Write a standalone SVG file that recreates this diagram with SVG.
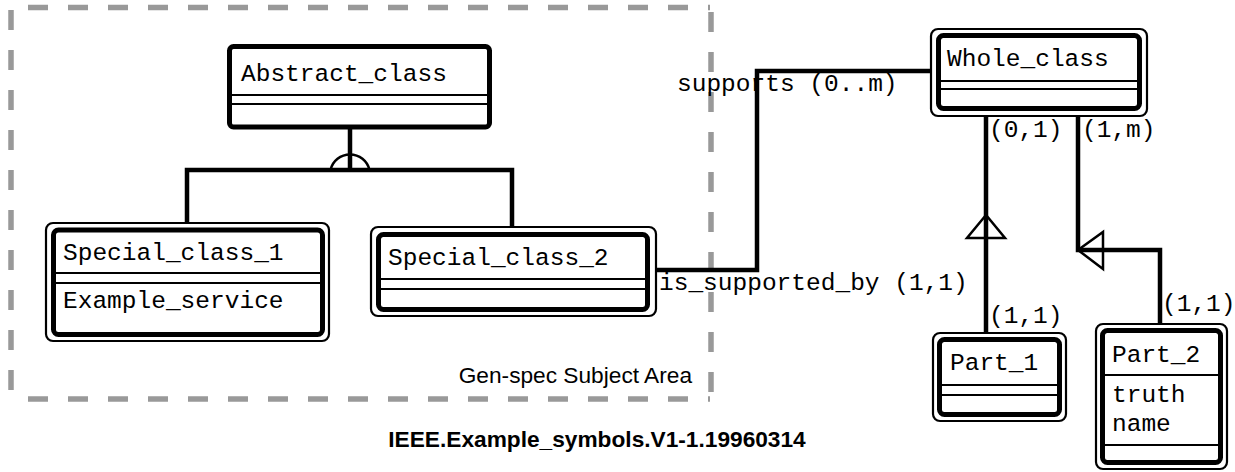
<svg xmlns="http://www.w3.org/2000/svg" width="1235" height="472" viewBox="0 0 1235 472">
  <style>
    .mono { font-family: "Liberation Mono", "Courier New", monospace; font-size: 24.5px; fill: #000; }
    .sans { font-family: "Liberation Sans", Arial, sans-serif; fill: #000; }
    .area { stroke: #999; stroke-width: 5.5; stroke-dasharray: 20 20; fill: none; }
    .thick { fill: #fff; stroke: #000; stroke-width: 5; }
    .thin { fill: #fff; stroke: #000; stroke-width: 2.2; }
    .sep { stroke: #000; stroke-width: 2.2; }
    .conn { fill: none; stroke: #000; stroke-width: 4.5; stroke-linejoin: miter; }
    .sym { fill: none; stroke: #000; stroke-width: 2.5; }
  </style>
  <rect width="1235" height="472" fill="#fff"/>

  <!-- subject area border -->
  <g id="subject-area">
    <line class="area" x1="28" y1="7.5" x2="710" y2="7.5"/>
    <line class="area" x1="28" y1="399" x2="710" y2="399"/>
    <line class="area" x1="11" y1="10" x2="11" y2="392"/>
    <line class="area" x1="711" y1="12" x2="711" y2="394"/>
    <text class="sans" x="692" y="383" font-size="22.7" text-anchor="end">Gen-spec Subject Area</text>
  </g>

  <!-- connectors -->
  <g id="connectors">
    <path class="conn" d="M350 129 V170"/>
    <path class="conn" d="M187 222 V170 H512 V227"/>
    <path class="sym" d="M330.5 170 A20 20 0 0 1 369.5 170"/>
    <path class="conn" d="M657 270 H757 V71 H930"/>
    <path class="conn" d="M986 117 V333"/>
    <path class="conn" d="M1078 117 V250 H1160 V324"/>
    <polygon class="sym" points="986,215 967,238 1005,238"/>
    <polygon class="sym" points="1078,250 1103,232 1103,269"/>
    <text class="mono" x="677" y="91">supports (0..m)</text>
    <text class="mono" x="659" y="290">is_supported_by (1,1)</text>
    <text class="mono" x="989" y="137">(0,1)</text>
    <text class="mono" x="1082" y="137">(1,m)</text>
    <text class="mono" x="989" y="323">(1,1)</text>
    <text class="mono" x="1162" y="311" font-size="24">(1,1)</text>
  </g>

  <g id="abstract-class">
    <rect class="thick" x="229.5" y="46.5" width="260" height="80.5" rx="4"/>
    <line class="sep" x1="229.5" y1="95" x2="489.5" y2="95"/>
    <line class="sep" x1="229.5" y1="104" x2="489.5" y2="104"/>
    <text class="mono" x="241" y="81">Abstract_class</text>
  </g>

  <g id="special-class-1">
    <rect class="thin" x="46" y="223" width="283" height="118" rx="7"/>
    <rect class="thick" x="53.5" y="230" width="269" height="104.5" rx="5"/>
    <line class="sep" x1="53.5" y1="273" x2="322.5" y2="273"/>
    <line class="sep" x1="53.5" y1="283" x2="322.5" y2="283"/>
    <text class="mono" x="63" y="260">Special_class_1</text>
    <text class="mono" x="63" y="308">Example_service</text>
  </g>

  <g id="special-class-2">
    <rect class="thin" x="371" y="227" width="285" height="89" rx="7"/>
    <rect class="thick" x="378.5" y="234.5" width="269" height="75" rx="5"/>
    <line class="sep" x1="378.5" y1="279" x2="647.5" y2="279"/>
    <line class="sep" x1="378.5" y1="289" x2="647.5" y2="289"/>
    <text class="mono" x="388" y="265">Special_class_2</text>
  </g>

  <g id="whole-class">
    <rect class="thin" x="931" y="29" width="216" height="87" rx="7"/>
    <rect class="thick" x="938.5" y="35.5" width="201" height="73" rx="5"/>
    <line class="sep" x1="938.5" y1="81" x2="1139.5" y2="81"/>
    <line class="sep" x1="938.5" y1="89" x2="1139.5" y2="89"/>
    <text class="mono" x="947" y="66">Whole_class</text>
  </g>

  <g id="part-1">
    <rect class="thin" x="933" y="333" width="133" height="88" rx="7"/>
    <rect class="thick" x="939.5" y="339.5" width="120" height="75" rx="5"/>
    <line class="sep" x1="939.5" y1="385" x2="1059.5" y2="385"/>
    <line class="sep" x1="939.5" y1="395" x2="1059.5" y2="395"/>
    <text class="mono" x="950" y="370">Part_1</text>
  </g>

  <g id="part-2">
    <rect class="thin" x="1096" y="324" width="131" height="145" rx="7"/>
    <rect class="thick" x="1102.5" y="330.5" width="118" height="132" rx="5"/>
    <line class="sep" x1="1102.5" y1="375" x2="1220.5" y2="375"/>
    <line class="sep" x1="1102.5" y1="445" x2="1220.5" y2="445"/>
    <text class="mono" x="1112" y="362">Part_2</text>
    <text class="mono" x="1112" y="402">truth</text>
    <text class="mono" x="1112" y="431">name</text>
  </g>

  <text class="sans" x="597" y="447" font-size="22.7" font-weight="bold" text-anchor="middle">IEEE.Example_symbols.V1-1.19960314</text>
</svg>
